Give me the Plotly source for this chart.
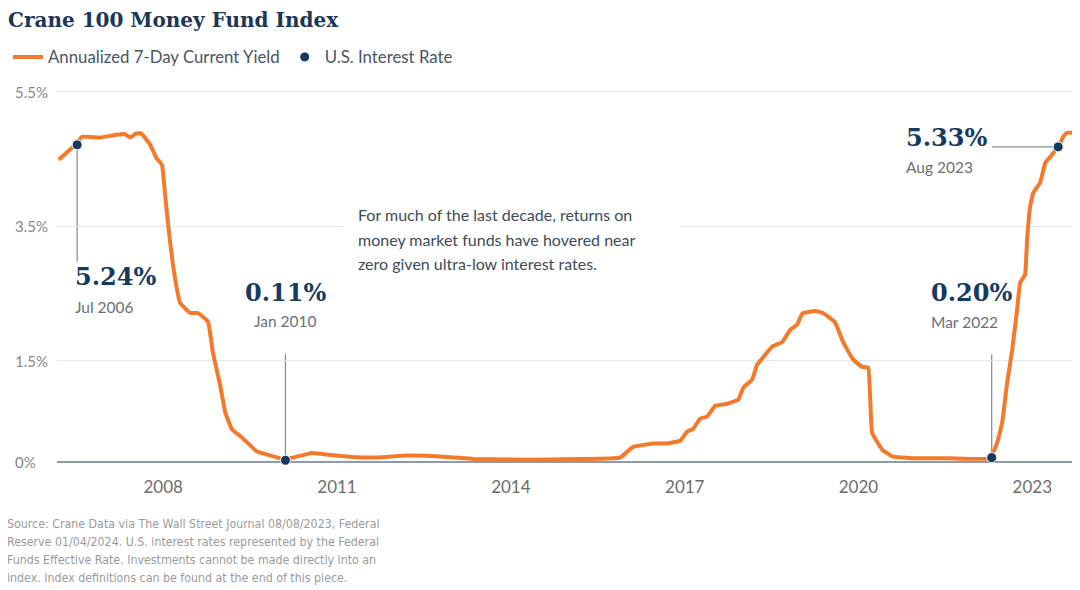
import plotly.graph_objects as go

# ---------------- data ----------------
yield_dates = [
    "2006-03-15", "2006-06-25", "2006-08-08", "2006-12-01", "2007-03-15", "2007-05-05",
    "2007-06-08", "2007-07-15", "2007-08-15", "2007-10-12", "2007-11-18", "2007-12-25",
    "2008-01-12", "2008-02-05", "2008-03-08", "2008-04-17", "2008-06-20", "2008-08-08",
    "2008-10-10", "2008-11-10", "2008-12-25", "2009-01-27", "2009-03-10", "2009-05-12",
    "2009-08-15", "2009-10-24", "2010-01-27", "2010-03-30", "2010-07-27", "2010-11-18",
    "2011-04-12", "2011-08-15", "2012-03-18", "2012-11-25", "2013-05-08", "2014-01-16",
    "2014-08-18", "2015-03-14", "2015-11-20", "2016-02-11", "2016-06-16", "2016-09-12",
    "2016-12-03", "2017-01-17", "2017-02-24", "2017-04-08", "2017-05-22", "2017-07-12",
    "2017-09-26", "2017-12-04", "2018-01-05", "2018-03-02", "2018-04-02", "2018-05-10",
    "2018-07-06", "2018-09-08", "2018-10-28", "2018-12-11", "2019-01-12", "2019-04-03",
    "2019-05-23", "2019-08-07", "2019-09-26", "2019-11-28", "2020-01-24", "2020-03-02",
    "2020-03-27", "2020-05-29", "2020-08-01", "2020-12-10", "2021-08-01", "2022-04-10",
    "2022-05-24", "2022-06-25", "2022-07-26", "2022-08-27", "2022-09-27", "2022-10-16",
    "2022-11-16", "2022-11-29", "2022-12-18", "2023-01-07", "2023-02-20", "2023-03-23",
    "2023-04-24", "2023-05-13", "2023-06-13", "2023-07-15", "2023-08-09", "2023-09-28",
]
yield_values = [
    4.49, 4.71, 4.83, 4.82, 4.86, 4.87,
    4.82, 4.88, 4.88, 4.71, 4.52, 4.41,
    4.00, 3.45, 2.85, 2.36, 2.21, 2.21,
    2.08, 1.62, 1.14, 0.73, 0.48, 0.36,
    0.15, 0.10, 0.04, 0.06, 0.13, 0.10,
    0.07, 0.06, 0.09, 0.07, 0.04, 0.03,
    0.03, 0.04, 0.06, 0.22, 0.27, 0.27,
    0.31, 0.45, 0.49, 0.64, 0.67, 0.83,
    0.86, 0.92, 1.10, 1.22, 1.44, 1.55,
    1.71, 1.78, 1.96, 2.04, 2.20, 2.24,
    2.21, 2.07, 1.78, 1.52, 1.41, 1.40,
    0.43, 0.18, 0.08, 0.05, 0.05, 0.05,
    0.28, 0.58, 1.17, 1.66, 2.26, 2.66,
    2.78, 3.30, 3.79, 4.00, 4.15, 4.44,
    4.53, 4.59, 4.68, 4.83, 4.89, 4.89,
]

rate_dates = ["2006-07-08", "2010-02-10", "2022-04-20", "2023-06-13"]
rate_values = [4.71, 0.02, 0.06, 4.68]
rate_labels = ["5.24%", "0.11%", "0.20%", "5.33%"]
rate_months = ["Jul 2006", "Jan 2010", "Mar 2022", "Aug 2023"]

x_tick_vals = ["2008-01-01", "2011-01-01", "2014-01-01", "2017-01-01", "2020-01-01", "2023-01-01"]
x_tick_text = ["2008", "2011", "2014", "2017", "2020", "2023"]
y_tick_vals = [0, 1.5, 3.5, 5.5]
y_tick_text = ["0%", "1.5%", "3.5%", "5.5%"]

note_lines = [
    "For much of the last decade, returns on",
    "money market funds have hovered near",
    "zero given ultra-low interest rates.",
]
source_lines = [
    "Source: Crane Data via The Wall Street Journal 08/08/2023, Federal",
    "Reserve 01/04/2024. U.S. interest rates represented by the Federal",
    "Funds Effective Rate. Investments cannot be made directly into an",
    "index. Index definitions can be found at the end of this piece.",
]

# ---------------- style ----------------
ORANGE = "#f5792a"
NAVY = "#163a5f"
GRAY_TXT = "#6b6f75"
LINE_GRAY = "#7d8896"
SANS = "Lato, Open Sans, sans-serif"
NARROW = "DejaVu Sans Condensed, Liberation Sans Narrow, Lato, sans-serif"
SERIF = "DejaVu Serif, Liberation Serif, serif"

W, H = 1072, 582          # page body adds an 8px margin
PL, PT, PW, PH = 49, 77, 1018, 380   # plot area in figure pixels


def px_x(p):   # screen pixel -> paper x
    return (p - 8 - PL) / PW


def px_y(p):   # screen pixel -> paper y
    return (PT + PH - (p - 8)) / PH


fig = go.Figure()
fig.add_trace(go.Scatter(
    x=yield_dates, y=yield_values, mode="lines",
    name="Annualized 7-Day Current Yield",
    line=dict(color=ORANGE, width=4, shape="spline", smoothing=0.3),
    hoverinfo="skip",
))
fig.add_trace(go.Scatter(
    x=rate_dates, y=rate_values, mode="markers",
    name="U.S. Interest Rate",
    marker=dict(color=NAVY, size=10, line=dict(color="white", width=1)),
    hoverinfo="skip",
))

annotations = []
shapes = []

# y tick labels (left aligned)
for v, t in zip(y_tick_vals, y_tick_text):
    annotations.append(dict(
        x=0, xref="paper", xshift=-44, xanchor="left",
        y=v, yref="y", yanchor="middle",
        text=t, showarrow=False,
        font=dict(family=SANS, size=15, color="#85888c"),
    ))

# callout layout (pixel offsets relative to each dot)
callouts = [
    dict(xa="left", xs=-4, vy=-132, my=-162, conn=("v", -117)),
    dict(xa="center", xs=0, vy=168, my=139, conn=("v", 106)),
    dict(xa="left", xs=-63, vy=165, my=136, conn=("v", 103)),
    dict(xa="left", xs=-154, vy=9, my=-20, conn=("h", -66)),
]
for d, v, lab, mon, c in zip(rate_dates, rate_values, rate_labels, rate_months, callouts):
    annotations.append(dict(
        x=d, y=v, xref="x", yref="y", xanchor=c["xa"], yanchor="middle",
        xshift=c["xs"], yshift=c["vy"], text="<b>" + lab + "</b>", showarrow=False,
        font=dict(family=SERIF, size=24, color=NAVY),
    ))
    annotations.append(dict(
        x=d, y=v, xref="x", yref="y", xanchor=c["xa"], yanchor="middle",
        xshift=c["xs"], yshift=c["my"], text=mon, showarrow=False,
        font=dict(family=SANS, size=15.5, color=GRAY_TXT),
    ))
    kind, length = c["conn"]
    if kind == "v":
        shapes.append(dict(
            type="line", xref="x", yref="y", ysizemode="pixel", yanchor=v,
            x0=d, x1=d, y0=0, y1=length,
            line=dict(color=LINE_GRAY, width=1.2), layer="below",
        ))
    else:
        shapes.append(dict(
            type="line", xref="x", yref="y", xsizemode="pixel", xanchor=d,
            x0=0, x1=length, y0=v, y1=v,
            line=dict(color=LINE_GRAY, width=1.2), layer="below",
        ))

# white panel behind the explanatory text (hides the grid line there)
annotations.append(dict(
    x=px_x(343), xref="paper", xanchor="left",
    y=px_y(202), yref="paper", yanchor="top",
    text=" ", showarrow=False, width=337, height=72,
    bgcolor="white", borderpad=0,
))
for i, line in enumerate(note_lines):
    annotations.append(dict(
        x=px_x(356), xref="paper", xanchor="left",
        y=px_y(215 + i * 24), yref="paper", yanchor="middle",
        text=line, showarrow=False, align="left",
        font=dict(family=SANS, size=16, color="#3e4a57"),
    ))

# footnote
for i, line in enumerate(source_lines):
    annotations.append(dict(
        x=px_x(5), xref="paper", xanchor="left",
        y=px_y(524 + i * 18), yref="paper", yanchor="middle",
        text=line, showarrow=False, align="left",
        font=dict(family=NARROW, size=12.3, color="#9a9a9a"),
    ))

fig.update_layout(
    width=W, height=H,
    margin=dict(l=PL, r=W - PL - PW, t=PT, b=H - PT - PH),
    paper_bgcolor="white", plot_bgcolor="white",
    title=dict(
        text="Crane 100 Money Fund Index",
        x=0, xref="container", xanchor="left",
        y=1 - 12 / H, yref="container", yanchor="middle",
        font=dict(family=SERIF, size=20, color="#1d3557", weight="bold"),
    ),
    showlegend=True,
    legend=dict(
        orientation="h", x=-0.011, xref="container", xanchor="left",
        y=1 - 49 / H, yref="container", yanchor="middle",
        font=dict(family=SANS, size=16.8, color="#4a5563"),
        itemwidth=30, bgcolor="rgba(0,0,0,0)",
    ),
    xaxis=dict(
        type="date", range=["2006-03-03", "2023-09-27"],
        tickvals=x_tick_vals, ticktext=x_tick_text,
        showgrid=False, zeroline=False, showline=False, ticks="",
        tickfont=dict(family=SANS, size=17, color="#6d6d6d"),
        ticklabelstandoff=10,
    ),
    yaxis=dict(
        range=[-0.05, 5.6], tickvals=y_tick_vals, showticklabels=False,
        showgrid=True, gridcolor="#e6e6e6", gridwidth=1,
        zeroline=True, zerolinecolor="#8e9bab", zerolinewidth=1.5,
        ticks="",
    ),
    annotations=annotations,
    shapes=shapes,
)

fig.write_html("out.html")
